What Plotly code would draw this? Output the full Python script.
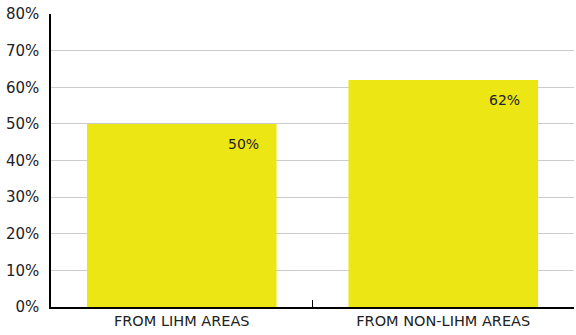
import plotly.graph_objects as go

categories = ["FROM LIHM AREAS", "FROM NON-LIHM AREAS"]
values = [50, 62]
value_labels = ["50%", "62%"]
y_ticks = [0, 10, 20, 30, 40, 50, 60, 70, 80]
y_tick_labels = ["0%", "10%", "20%", "30%", "40%", "50%", "60%", "70%", "80%"]

FONT = "DejaVu Sans, Verdana, sans-serif"

fig = go.Figure()
fig.add_trace(go.Bar(
    x=categories, y=values,
    marker=dict(color="#ECE614", line=dict(width=0)),
    width=0.725,
    hoverinfo="skip",
))

for c, v, t in zip(categories, values, value_labels):
    fig.add_annotation(
        x=c, y=v, xref="x", yref="y", text=t, showarrow=False,
        xanchor="right", yanchor="top", xshift=79, yshift=-10,
        font=dict(family=FONT, size=14, color="#222222"),
    )

fig.update_layout(
    width=576, height=335,
    margin=dict(l=51, r=2, t=14, b=28),
    paper_bgcolor="white", plot_bgcolor="white",
    showlegend=False,
    bargap=0.275,
    font=dict(family=FONT, color="#222222"),
)
fig.update_xaxes(
    showline=True, linecolor="black", linewidth=1.5,
    ticks="inside", tickson="boundaries", ticklen=7, tickcolor="black", tickwidth=1.2,
    tickfont=dict(size=14.5, color="#222222"),
    showgrid=False, automargin=False,
)
fig.update_yaxes(
    range=[0, 80], tickvals=y_ticks, ticktext=y_tick_labels,
    showline=True, linecolor="black", linewidth=1.5,
    showgrid=True, gridcolor="#cccccc", gridwidth=1,
    ticks="", tickfont=dict(size=15, color="#222222"),
    ticklabelstandoff=7,
    zeroline=False, automargin=False,
)

fig.write_html("out.html", config={"displayModeBar": False},
               post_script="document.body.style.margin='0';")
